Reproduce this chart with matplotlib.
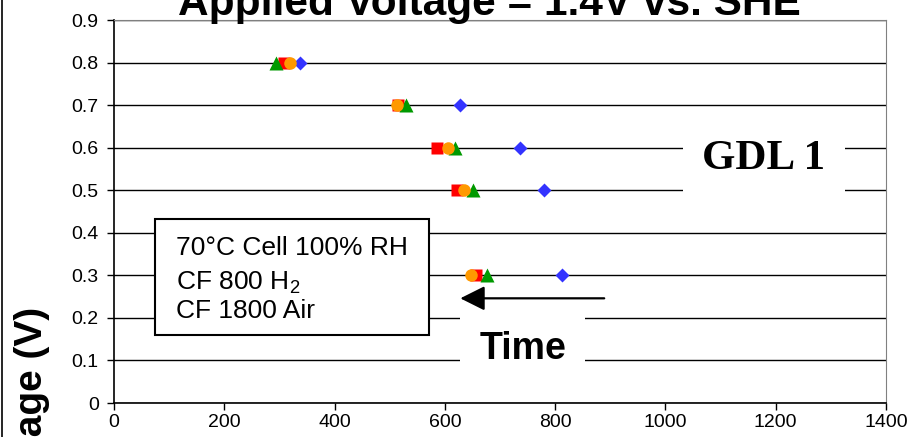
import matplotlib
matplotlib.use("Agg")
import matplotlib.pyplot as plt
from matplotlib.patches import Rectangle
from matplotlib.lines import Line2D

plt.rcParams['font.family'] = ['Liberation Sans', 'DejaVu Sans']
plt.rcParams['mathtext.fontset'] = 'custom'
plt.rcParams['mathtext.rm'] = 'Liberation Sans'
plt.rcParams['mathtext.it'] = 'Liberation Sans'

# voltage steps and the time at which each run reached them
voltage = [0.8, 0.7, 0.6, 0.5, 0.3]
t_diamond = [337, 627, 736, 780, 812]
t_square = [308, 515, 585, 622, 656]
t_triangle = [293, 530, 618, 651, 676]
t_circle = [320, 513, 606, 635, 647]

fig = plt.figure(figsize=(9.09, 4.37), dpi=100)
ax = fig.add_axes([0.1254, 0.0778, 0.8493, 0.8764])

ax.plot(t_diamond, voltage, 'D', color='#3333ff', ms=7, mec='none', zorder=3)
ax.plot(t_square, voltage, 's', color='#ff0000', ms=8.5, mec='none', zorder=4)
ax.plot(t_triangle, voltage, '^', color='#009900', ms=10, mec='none', zorder=5)
ax.plot(t_circle, voltage, 'o', color='#ff9900', ms=9, mec='none', zorder=6)

ax.set_xlim(0, 1400)
ax.set_ylim(0, 0.9)
ax.set_xticks(range(0, 1401, 200))
ax.set_yticks([i / 10 for i in range(10)])
ax.set_yticklabels(['0'] + ['%.1f' % (i / 10) for i in range(1, 10)])
ax.tick_params(labelsize=14, length=5, width=1, direction='out', pad=6)
ax.tick_params(axis='x', pad=3)
ax.yaxis.grid(True, color='black', lw=1)
ax.set_axisbelow(True)
for side in ['top', 'right']:
    ax.spines[side].set_color('#808080')
for side in ['left', 'bottom']:
    ax.spines[side].set_color('black')
    ax.spines[side].set_linewidth(1.2)

# conditions box
ax.add_patch(Rectangle((75, 0.160), 496, 0.272, facecolor='white',
                       edgecolor='black', lw=1.5, zorder=7))
ax.text(112, 0.348, '70°C Cell 100% RH', fontsize=19, zorder=8)
ax.text(112, 0.266, 'CF 800 H$_2$', fontsize=19, zorder=8)
ax.text(112, 0.200, 'CF 1800 Air', fontsize=19, zorder=8)

ax.annotate('', xy=(628, 0.246), xytext=(889, 0.246),
            arrowprops=dict(arrowstyle='-|>,head_length=0.6,head_width=0.3',
                            mutation_scale=25, lw=1.6, color='black',
                            shrinkA=0, shrinkB=0), zorder=8)

ax.text(741, 0.128, 'Time', fontsize=27, fontweight='bold', ha='center',
        va='center', zorder=8,
        bbox=dict(boxstyle='square,pad=0.5', fc='white', ec='none'))
ax.text(1178, 0.574, 'GDL 1', fontsize=31, fontweight='bold',
        family='Liberation Serif', ha='center', va='center', zorder=8,
        bbox=dict(boxstyle='square,pad=0.45', fc='white', ec='none'))

fig.text(0.5385, 0.9657, 'Applied Voltage = 1.4V vs. SHE', fontsize=30.5,
         fontweight='bold', ha='center', va='baseline')
fig.text(0.015, 0.298, 'Cell Voltage (V)', fontsize=28, fontweight='bold',
         rotation=90, ha='left', va='top')
fig.add_artist(Line2D([0.0025, 0.0025], [0, 1], color='black', lw=1.2,
                      transform=fig.transFigure))

fig.savefig('out.png', dpi=100)
